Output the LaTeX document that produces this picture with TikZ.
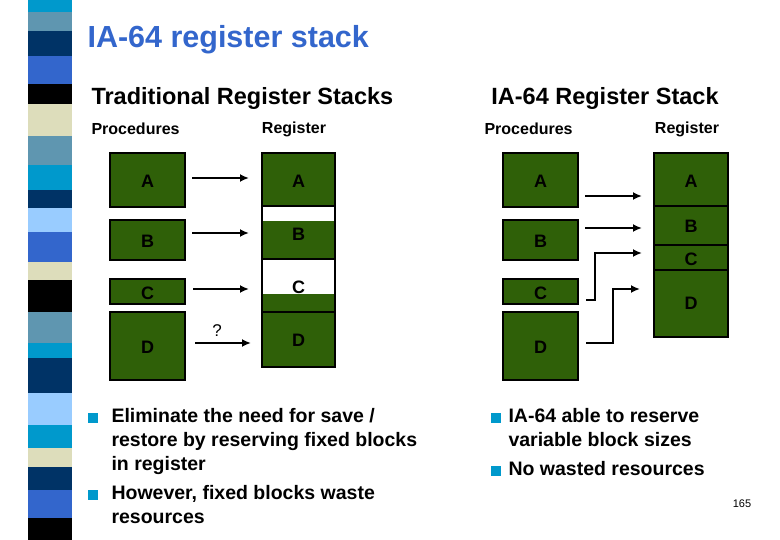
\documentclass[tikz,border=0pt]{standalone}
\usepackage{fontspec}
\setmainfont{Liberation Sans}
\usetikzlibrary{arrows.meta}
\definecolor{blkgreen}{RGB}{47,96,8}
\definecolor{cnavy}{RGB}{0,51,102}
\definecolor{csteel}{RGB}{95,150,176}
\definecolor{croyal}{RGB}{51,102,204}
\definecolor{ccyan}{RGB}{0,153,204}
\definecolor{clight}{RGB}{153,204,255}
\definecolor{cbeige}{RGB}{221,221,187}
\definecolor{ctitle}{RGB}{51,102,204}
\tikzset{
  blk/.style={fill=blkgreen,draw=black,line width=2.6pt},
  frame/.style={draw=black,line width=2.6pt},
  lbl/.style={font=\fontsize{18}{18}\selectfont\bfseries},
  arr/.style={line width=2.6pt,-{Latex[length=9pt,width=8pt]}},
  hdr/.style={font=\fontsize{23.5}{24}\selectfont\bfseries,anchor=west},
  sub/.style={font=\fontsize{16}{16}\selectfont\bfseries},
  txt/.style={font=\fontsize{19.5}{24}\selectfont\bfseries,anchor=north west,align=left},
  bul/.style={fill=ccyan,minimum size=10pt,inner sep=0pt}
}
\begin{document}
\begin{tikzpicture}[x=1pt,y=-1pt]
    \useasboundingbox (0,0) rectangle (780,540);
    % side stripe
    \foreach \ya/\yb/\c in {0/12/ccyan,12/31/csteel,31/56/cnavy,56/84/croyal,84/104/black,104/136/cbeige,136/165/csteel,165/190/ccyan,190/208/cnavy,208/232/clight,232/262/croyal,262/280/cbeige,280/312/black,312/343/csteel,343/358/ccyan,358/393/cnavy,393/425/clight,425/448/ccyan,448/467/cbeige,467/490/cnavy,490/518/croyal,518/540/black}
        \fill[\c] (28,\ya) rectangle (72,\yb);
    % title
    \node[anchor=west,font=\fontsize{30.5}{30}\selectfont\bfseries,text=ctitle] (title) at (84,40) {IA-64 register stack};
    \node[hdr] (hl) at (88,98) {Traditional Register Stacks};
    \node[hdr,anchor=center] (hr) at (605,98) {IA-64 Register Stack};
    \node[sub,anchor=west] (pl) at (88,129) {Procedures};
    \node[sub] (rl) at (294,129) {Register};
    \node[sub,anchor=west] (pr) at (481,129) {Procedures};
    \node[sub] (rr) at (687,129) {Register};
    % traditional: procedures
    \filldraw[blk] (110,153) rectangle (185,207);
    \filldraw[blk] (110,220) rectangle (185,260);
    \filldraw[blk] (110,279) rectangle (185,304);
    \filldraw[blk] (110,312) rectangle (185,380);
    \node[lbl] (la) at (147.5,181) {A};
    \node[lbl] (lb) at (147.5,241) {B};
    \node[lbl] (lc) at (147.5,293) {C};
    \node[lbl] (ld) at (147.5,347) {D};
    % traditional: register
    \fill[blkgreen] (262,153) rectangle (335,206);
    \fill[blkgreen] (262,221) rectangle (335,259);
    \fill[blkgreen] (262,294) rectangle (335,312);
    \fill[blkgreen] (262,312) rectangle (335,367);
    \draw[frame] (262,153) rectangle (335,206);
    \draw[frame] (262,206) rectangle (335,259);
    \draw[frame] (262,259) rectangle (335,312);
    \draw[frame] (262,312) rectangle (335,367);
    \node[lbl] (ra) at (298.5,181) {A};
    \node[lbl] (rb) at (298.5,234) {B};
    \node[lbl] (rc) at (298.5,287) {C};
    \node[lbl] (rd) at (298.5,340) {D};
    \coordinate (ta) at (249,178); \coordinate (tb) at (249,233);
    \coordinate (tc) at (249,289); \coordinate (td) at (251,343);
    \draw[arr] (192,178) -- (ta);
    \draw[arr] (192,233) -- (tb);
    \draw[arr] (193,289) -- (tc);
    \draw[arr] (195,343) -- (td);
    \node[font=\fontsize{17}{17}\selectfont] (q) at (217,331) {?};
    % IA-64: procedures
    \filldraw[blk] (503,153) rectangle (578,207);
    \filldraw[blk] (503,220) rectangle (578,260);
    \filldraw[blk] (503,279) rectangle (578,304);
    \filldraw[blk] (503,312) rectangle (578,380);
    \node[lbl] (pa) at (540.5,181) {A};
    \node[lbl] (pb) at (540.5,241) {B};
    \node[lbl] (pc) at (540.5,293) {C};
    \node[lbl] (pd) at (540.5,347) {D};
    % IA-64: register
    \filldraw[blk] (654,153) rectangle (728,206);
    \filldraw[blk] (654,206) rectangle (728,245);
    \filldraw[blk] (654,245) rectangle (728,270);
    \filldraw[blk] (654,270) rectangle (728,337);
    \node[lbl] (sa) at (691,181) {A};
    \node[lbl] (sb) at (691,226) {B};
    \node[lbl] (sc) at (691,259) {C};
    \node[lbl] (sd) at (691,303) {D};
    \coordinate (ua) at (642,196); \coordinate (ub) at (642,228);
    \coordinate (uc) at (642,253); \coordinate (ud) at (640,289);
    \draw[arr] (585,196) -- (ua);
    \draw[arr] (585,228) -- (ub);
    \draw[arr] (586,300) -- (595,300) -- (595,253) -- (uc);
    \draw[arr] (586,343) -- (613,343) -- (613,289) -- (ud);
    % bullets
    \node[bul] (b1) at (93,418) {};
    \node[txt] (t1) at (108,405) {Eliminate the need for save /\\restore by reserving fixed blocks\\in register};
    \node[bul] (b2) at (93,495) {};
    \node[txt] (t2) at (108,482) {However, fixed blocks waste\\resources};
    \node[bul] (b3) at (496,418) {};
    \node[txt] (t3) at (505,405) {IA-64 able to reserve\\variable block sizes};
    \node[bul] (b4) at (496,471) {};
    \node[txt] (t4) at (505,458) {No wasted resources};
    \node[font=\fontsize{11}{11}\selectfont] (pg) at (742,504) {165};
\end{tikzpicture}
\end{document}
